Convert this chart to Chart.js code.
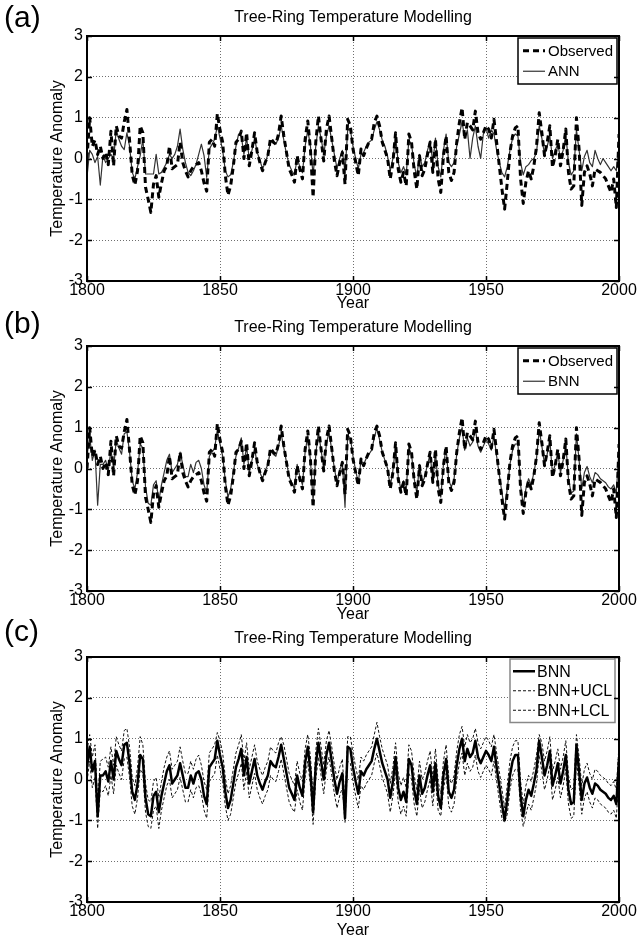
<!DOCTYPE html>
<html>
<head>
<meta charset="utf-8">
<script src="https://cdn.jsdelivr.net/npm/chart.js@4.4.1/dist/chart.umd.min.js"></script>
<style>
  html, body { margin: 0; padding: 0; background: #fff; }
  body { width: 638px; height: 937px; position: relative; overflow: hidden; font-family: "Liberation Sans", Arial, sans-serif; }
  .panel { position: absolute; left: 0; width: 638px; }
  .plabel { position: absolute; left: 4px; font-size: 30px; line-height: 1; color: #000; }
  canvas { display: block; }
</style>
</head>
<body>
<div class="panel" style="top:0px"><canvas id="ca" width="638" height="310"></canvas></div>
<div class="panel" style="top:310px"><canvas id="cb" width="638" height="311"></canvas></div>
<div class="panel" style="top:621px"><canvas id="cc" width="638" height="316"></canvas></div>
<div class="plabel" style="top:2px">(a)</div>
<div class="plabel" style="top:308px">(b)</div>
<div class="plabel" style="top:616px">(c)</div>
<script>
// ---------- DATA ----------
const firstYear = 1800, lastYear = 2000;
const years = [];
for (let y = firstYear; y <= lastYear; y++) years.push(y);
const xTicks = [1800, 1850, 1900, 1950, 2000];
const yTicks = [-3, -2, -1, 0, 1, 2, 3];
const chartTitle = 'Tree-Ring Temperature Modelling';

const observed = [
  0.0, 1.0, 0.3, 0.45, 0.1, 0.3, 0.0, 0.15, -0.15, 0.67,
  -0.18, 0.8, 0.55, 0.5, 0.9, 1.2, 0.45, -0.4, -0.65, -0.3,
  0.8, 0.63, -0.7, -1.0, -1.32, -0.63, -0.42, -0.95, -0.6, -0.3,
  -0.18, 0.3, -0.25, -0.2, -0.15, 0.4, -0.1, -0.3, -0.45, -0.3,
  -0.2, -0.15, -0.1, -0.3, -0.6, -0.8, 0.4, 0.47, 0.3, 1.1,
  0.7, 0.4, -0.42, -0.9, -0.67, -0.2, 0.4, 0.47, 0.67, 0.0,
  0.63, -0.18, 0.2, 0.63, 0.15, -0.1, -0.3, -0.1, 0.07, 0.5,
  0.4, 0.35, 0.6, 1.04, 0.55, 0.15, -0.26, -0.4, -0.58, 0.07,
  -0.26, -0.5, 0.47, 0.92, 0.23, -0.95, 0.4, 1.04, 0.47, -0.06,
  0.72, 1.04, 0.5, -0.06, -0.42, -0.1, 0.15, -0.63, 0.96, 0.8,
  0.23, -0.1, -0.42, 0.23, 0.07, 0.25, 0.4, 0.47, 0.88, 1.04,
  0.8, 0.4, 0.2, 0.0, -0.5, -0.1, 0.63, -0.26, -0.58, -0.34,
  -0.67, 0.6, 0.4, -0.3, -0.75, 0.07, -0.42, -0.26, 0.1, 0.4,
  -0.34, 0.47, -0.5, -0.83, 0.07, 0.55, -0.34, -0.54, -0.34, 0.4,
  0.88, 1.24, 0.47, 0.88, 0.8, 0.7, 1.16, 0.63, 0.47, 0.63,
  0.8, 0.72, 0.5, 0.96, 0.4, -0.18, -0.75, -1.24, -0.58, 0.15,
  0.55, 0.75, 0.8, -0.5, -1.1, -0.58, -0.3, -0.5, -0.18, 0.3,
  1.12, 0.63, 0.07, 0.4, 0.8, -0.22, 0.07, 0.47, -0.18, 0.2,
  0.72, -0.34, -0.75, -0.67, 1.0, 0.23, -1.15, -0.34, -0.18, -0.38,
  -0.67, -0.26, -0.3, -0.34, -0.42, -0.5, -0.67, -0.83, -0.5, -1.2,
  0.6
];

const ann = [
  -0.45, 0.2, 0.1, -0.1, 0.05, -0.65, 0.07, -0.1, 0.0, 0.1,
  0.0, 0.7, 0.47, 0.3, 0.22, 0.63, 0.3, -0.34, -0.5, -0.2,
  0.07, 0.47, -0.38, -0.38, -0.38, -0.38, 0.1, -0.38, -0.34, -0.22,
  -0.1, 0.1, 0.0, 0.1, 0.3, 0.72, 0.23, -0.1, -0.34, -0.42,
  -0.3, -0.14, 0.1, 0.35, 0.07, -0.46, 0.23, 0.35, 0.47, 0.8,
  0.5, 0.2, -0.3, -0.45, -0.4, -0.1, 0.3, 0.6, 0.55, 0.1,
  0.5, 0.0, 0.2, 0.5, 0.15, -0.05, -0.25, -0.1, 0.1, 0.4,
  0.45, 0.35, 0.5, 0.8, 0.45, 0.1, -0.15, -0.3, -0.4, 0.0,
  -0.2, -0.35, 0.3, 0.7, 0.3, -0.4, 0.3, 0.8, 0.5, 0.1,
  0.55, 0.8, 0.45, 0.1, -0.25, 0.0, 0.2, -0.35, 0.7, 0.7,
  0.3, 0.0, -0.25, 0.1, 0.15, 0.3, 0.4, 0.45, 0.7, 0.9,
  0.7, 0.45, 0.3, 0.05, -0.3, 0.0, 0.55, -0.1, -0.35, -0.2,
  -0.4, 0.45, 0.35, -0.15, -0.45, 0.1, -0.2, -0.1, 0.2, 0.43,
  -0.1, 0.5, -0.2, -0.45, 0.2, 0.6, -0.1, -0.2, -0.1, 0.3,
  0.6, 0.9, 0.5, 0.7, 0.0, 0.5, 0.8, 0.3, 0.0, 0.6,
  0.75, 0.5, 0.7, 0.6, 0.2, -0.1, -0.35, -0.45, -0.2, 0.2,
  0.5, 0.6, 0.55, -0.1, -0.4, -0.2, -0.15, -0.05, 0.0, 0.15,
  0.8, 0.5, 0.1, 0.3, 0.55, 0.0, 0.2, 0.35, 0.0, 0.2,
  0.6, -0.1, -0.4, -0.3, 0.7, 0.2, -0.3, 0.05, 0.2, -0.1,
  -0.2, 0.2, 0.0, -0.15, 0.0, -0.1, -0.2, -0.3, -0.2, -0.3,
  0.3
];

const bnn = [
  0.3, 0.8, 0.2, 0.45, -0.9, 0.1, 0.1, 0.2, -0.05, 0.45,
  0.0, 0.7, 0.5, 0.35, 0.85, 0.9, 0.4, -0.3, -0.5, -0.1,
  0.6, 0.5, -0.45, -0.85, -0.9, -0.4, -0.3, -0.8, -0.4, -0.1,
  0.2, 0.35, -0.1, 0.0, 0.1, 0.4, 0.1, -0.2, -0.2, 0.1,
  -0.1, 0.15, 0.2, 0.0, -0.4, -0.6, 0.3, 0.4, 0.5, 0.95,
  0.6, 0.3, -0.3, -0.7, -0.5, -0.1, 0.3, 0.5, 0.75, 0.1,
  0.55, -0.1, 0.2, 0.5, 0.1, -0.1, -0.25, -0.05, 0.1, 0.45,
  0.35, 0.3, 0.55, 0.85, 0.5, 0.15, -0.2, -0.35, -0.5, 0.1,
  -0.2, -0.4, 0.4, 0.8, 0.2, -0.8, 0.35, 0.9, 0.45, 0.0,
  0.6, 0.9, 0.45, 0.0, -0.35, -0.05, 0.15, -0.95, 0.8, 0.75,
  0.3, -0.05, -0.35, 0.2, 0.1, 0.25, 0.35, 0.45, 0.75, 1.0,
  0.7, 0.4, 0.2, 0.0, -0.45, -0.05, 0.55, -0.2, -0.5, -0.3,
  -0.55, 0.5, 0.35, -0.25, -0.6, 0.1, -0.35, -0.2, 0.1, 0.35,
  -0.3, 0.4, -0.4, -0.7, 0.1, 0.5, -0.3, -0.45, -0.25, 0.35,
  0.75, 1.0, 0.45, 0.75, 0.55, 0.65, 0.95, 0.55, 0.4, 0.55,
  0.7, 0.6, 0.45, 0.8, 0.3, -0.15, -0.6, -1.0, -0.5, 0.1,
  0.45, 0.6, 0.6, -0.4, -0.9, -0.5, -0.25, -0.4, -0.1, 0.25,
  0.95, 0.55, 0.1, 0.35, 0.7, -0.15, 0.1, 0.4, -0.1, 0.2,
  0.6, -0.25, -0.6, -0.55, 0.85, 0.2, -0.5, -0.1, 0.05, -0.2,
  -0.35, -0.1, -0.15, -0.25, -0.3, -0.35, -0.45, -0.5, -0.4, -0.6,
  0.5
];

const bnnUCL = [
  0.7, 1.1, 0.55, 0.85, -0.55, 0.45, 0.5, 0.55, 0.3, 0.8,
  0.35, 1.05, 0.85, 0.7, 1.2, 1.25, 0.8, 0.05, -0.15, 0.3,
  1.05, 0.85, -0.1, -0.5, -0.55, -0.05, 0.05, -0.45, -0.05, 0.3,
  0.55, 0.7, 0.25, 0.35, 0.45, 0.8, 0.45, 0.15, 0.15, 0.45,
  0.25, 0.5, 0.6, 0.35, -0.05, -0.25, 0.65, 0.75, 0.85, 1.15,
  0.95, 0.65, 0.05, -0.35, -0.15, 0.25, 0.65, 0.85, 1.1, 0.45,
  0.9, 0.25, 0.55, 0.85, 0.45, 0.25, 0.1, 0.3, 0.45, 0.8,
  0.7, 0.65, 0.9, 1.05, 0.85, 0.5, 0.15, 0.0, -0.15, 0.45,
  0.15, -0.05, 0.75, 1.1, 0.55, -0.45, 0.7, 1.25, 0.8, 0.35,
  0.95, 1.2, 0.8, 0.35, 0.0, 0.3, 0.5, -0.6, 1.05, 1.05,
  0.65, 0.3, 0.0, 0.55, 0.45, 0.6, 0.7, 0.8, 1.1, 1.4,
  1.05, 0.75, 0.55, 0.35, -0.1, 0.3, 0.9, 0.15, -0.15, 0.05,
  -0.2, 0.85, 0.7, 0.1, -0.25, 0.45, 0.0, 0.15, 0.45, 0.7,
  0.05, 0.75, -0.05, -0.35, 0.45, 0.85, 0.05, -0.1, 0.1, 0.7,
  1.1, 1.3, 0.8, 1.1, 0.9, 1.0, 1.25, 0.9, 0.75, 0.9,
  1.05, 0.95, 0.8, 1.1, 0.65, 0.2, -0.25, -0.7, -0.15, 0.45,
  0.8, 0.95, 0.95, -0.05, -0.6, -0.15, 0.1, -0.05, 0.25, 0.6,
  1.1, 0.9, 0.45, 0.7, 1.05, 0.2, 0.45, 0.75, 0.25, 0.55,
  0.95, 0.1, -0.25, -0.2, 1.1, 0.55, -0.15, 0.25, 0.4, 0.15,
  0.0, 0.25, 0.2, 0.1, 0.05, 0.0, -0.1, -0.15, -0.05, -0.25,
  0.85
];

const bnnLCL = [
  -0.05, 0.45, -0.2, 0.05, -1.2, -0.25, -0.3, -0.15, -0.4, 0.1,
  -0.35, 0.35, 0.15, 0.0, 0.5, 0.55, 0.05, -0.65, -0.85, -0.45,
  0.25, 0.15, -0.8, -1.15, -1.2, -0.75, -0.65, -1.2, -0.75, -0.45,
  -0.15, 0.0, -0.45, -0.35, -0.25, 0.05, -0.25, -0.55, -0.55, -0.25,
  -0.45, -0.2, -0.15, -0.35, -0.75, -0.95, -0.05, 0.05, 0.15, 0.6,
  0.25, -0.05, -0.65, -1.0, -0.85, -0.45, -0.05, 0.15, 0.4, -0.25,
  0.2, -0.45, -0.15, 0.15, -0.25, -0.45, -0.6, -0.4, -0.25, 0.1,
  0.0, -0.05, 0.2, 0.5, 0.15, -0.2, -0.55, -0.7, -0.8, -0.25,
  -0.55, -0.75, 0.05, 0.45, -0.15, -1.1, 0.0, 0.55, 0.1, -0.35,
  0.25, 0.55, 0.1, -0.35, -0.7, -0.4, -0.2, -1.05, 0.45, 0.4,
  -0.05, -0.4, -0.7, -0.15, -0.25, -0.1, 0.0, 0.1, 0.4, 0.65,
  0.35, 0.05, -0.15, -0.35, -0.8, -0.4, 0.2, -0.55, -0.85, -0.65,
  -0.9, 0.15, 0.0, -0.6, -0.9, -0.25, -0.7, -0.55, -0.25, 0.0,
  -0.65, 0.05, -0.75, -0.9, -0.25, 0.15, -0.65, -0.8, -0.6, 0.0,
  0.4, 0.65, 0.1, 0.4, 0.2, 0.3, 0.6, 0.2, 0.05, 0.2,
  0.35, 0.25, 0.1, 0.45, -0.05, -0.5, -0.95, -1.05, -0.85, -0.25,
  0.1, 0.25, 0.25, -0.75, -1.15, -0.85, -0.6, -0.75, -0.45, -0.1,
  0.6, 0.2, -0.25, 0.0, 0.35, -0.5, -0.25, 0.05, -0.45, -0.15,
  0.25, -0.6, -0.95, -0.9, 0.5, -0.15, -0.85, -0.45, -0.3, -0.55,
  -0.7, -0.45, -0.5, -0.6, -0.65, -0.7, -0.8, -0.85, -0.75, -0.95,
  0.15
];

// ---------- HELPERS ----------
const FONT = '"Liberation Sans", Arial, Helvetica, sans-serif';
const toXY = arr => years.map((y, i) => ({ x: y, y: arr[i] }));

const frameAndLegend = {
  id: 'frameAndLegend',
  afterDatasetsDraw(chart, args, opts) {
    const ctx = chart.ctx, ca = chart.chartArea;
    const ds = chart.data.datasets;
    ctx.save();
    const L = opts.legend;
    const h = L.padY * 2 + L.rowH * ds.length;
    const x0 = ca.right - L.marginRight - L.width;
    const y0 = ca.top + L.marginTop;
    ctx.fillStyle = '#fff';
    ctx.fillRect(x0, y0, L.width, h);
    ctx.lineWidth = L.borderWidth;
    ctx.strokeStyle = L.borderColor;
    ctx.strokeRect(x0, y0, L.width, h);
    ctx.font = L.fontSize + 'px ' + FONT;
    ds.forEach((d, i) => {
      const cy = y0 + L.padY + L.rowH * (i + 0.5);
      ctx.beginPath();
      ctx.setLineDash(d.borderDash || []);
      ctx.lineWidth = d.borderWidth;
      ctx.strokeStyle = d.borderColor;
      ctx.moveTo(x0 + L.lineX0, cy);
      ctx.lineTo(x0 + L.lineX1, cy);
      ctx.stroke();
      ctx.setLineDash([]);
      ctx.fillStyle = '#000';
      ctx.textBaseline = 'middle';
      ctx.textAlign = 'left';
      ctx.fillText(d.label, x0 + L.textX, cy + 1);
    });
    ctx.restore();
  },
  afterDraw(chart) {
    const ctx = chart.ctx, ca = chart.chartArea;
    const xs = chart.scales.x, ys = chart.scales.y;
    ctx.save();
    ctx.strokeStyle = '#000';
    ctx.lineWidth = 1.5;
    ctx.beginPath();
    xs.ticks.forEach(t => {
      const px = Math.round(xs.getPixelForValue(t.value)) + 0.5;
      ctx.moveTo(px, ca.bottom); ctx.lineTo(px, ca.bottom - 5);
      ctx.moveTo(px, ca.top); ctx.lineTo(px, ca.top + 5);
    });
    ys.ticks.forEach(t => {
      const py = Math.round(ys.getPixelForValue(t.value)) + 0.5;
      ctx.moveTo(ca.left, py); ctx.lineTo(ca.left + 5, py);
      ctx.moveTo(ca.right, py); ctx.lineTo(ca.right - 5, py);
    });
    ctx.stroke();
    ctx.lineWidth = 2;
    ctx.strokeRect(ca.left, ca.top, ca.right - ca.left, ca.bottom - ca.top);
    ctx.restore();
  }
};

function makeChart(id, datasets, xAxisHeight, legendOpts) {
  const el = document.getElementById(id);
  return new Chart(el, {
    type: 'line',
    data: { datasets },
    plugins: [frameAndLegend],
    options: {
      responsive: false,
      animation: false,
      devicePixelRatio: 1,
      layout: { padding: { left: 0, right: 19, top: 0, bottom: 0 } },
      elements: { point: { radius: 0 }, line: { tension: 0, borderJoinStyle: 'round' } },
      plugins: {
        legend: { display: false },
        tooltip: { enabled: false },
        title: {
          display: true,
          text: chartTitle,
          fullSize: false,
          color: '#000',
          font: { family: FONT, size: 16, weight: 'normal', lineHeight: 1.2 },
          padding: { top: 7.5, bottom: 9.3 }
        },
        frameAndLegend: { legend: legendOpts }
      },
      scales: {
        x: {
          type: 'linear',
          min: firstYear, max: lastYear,
          afterBuildTicks: s => { s.ticks = xTicks.map(v => ({ value: v })); },
          afterFit: s => { s.height = xAxisHeight; },
          ticks: { color: '#000', padding: 0, maxRotation: 0, autoSkip: false,
                   font: { family: FONT, size: 16 }, callback: v => String(v) },
          grid: { color: '#6f6f6f', lineWidth: 1, drawTicks: false },
          border: { display: false, dash: [1, 2] },
          title: { display: true, text: 'Year', color: '#000',
                   font: { family: FONT, size: 16, lineHeight: 0.75 }, padding: { top: 0, bottom: 0 } }
        },
        y: {
          min: -3, max: 3,
          afterBuildTicks: s => { s.ticks = yTicks.map(v => ({ value: v })); },
          afterFit: s => { s.width = 87; },
          ticks: { color: '#000', padding: 4, font: { family: FONT, size: 16 } },
          grid: { color: '#6f6f6f', lineWidth: 1, drawTicks: false },
          border: { display: false, dash: [1, 2] },
          title: { display: true, text: 'Temperature Anomaly', color: '#000',
                   font: { family: FONT, size: 16, lineHeight: 1.2 }, padding: { top: 48, bottom: 0 } }
        }
      }
    }
  });
}

const legendAB = { width: 99, marginRight: 2, marginTop: 2, padY: 2.5, rowH: 20.5, fontSize: 15,
                   lineX0: 5, lineX1: 27, textX: 30, borderColor: '#000', borderWidth: 1.5 };
const legendC = { width: 105, marginRight: 4, marginTop: 2, padY: 2.5, rowH: 19.5, fontSize: 16,
                  lineX0: 3, lineX1: 25, textX: 27, borderColor: '#888', borderWidth: 1.5 };

makeChart('ca', [
  { label: 'Observed', data: toXY(observed), borderColor: '#000', borderWidth: 3, borderDash: [6, 4] },
  { label: 'ANN', data: toXY(ann), borderColor: '#333', borderWidth: 1.2 }
], 29, legendAB);

makeChart('cb', [
  { label: 'Observed', data: toXY(observed), borderColor: '#000', borderWidth: 3, borderDash: [6, 4] },
  { label: 'BNN', data: toXY(bnn), borderColor: '#333', borderWidth: 1.2 }
], 30, legendAB);

makeChart('cc', [
  { label: 'BNN', data: toXY(bnn), borderColor: '#000', borderWidth: 2.5 },
  { label: 'BNN+UCL', data: toXY(bnnUCL), borderColor: '#111', borderWidth: 1, borderDash: [3, 2] },
  { label: 'BNN+LCL', data: toXY(bnnLCL), borderColor: '#111', borderWidth: 1, borderDash: [3, 2] }
], 35, legendC);
</script>
</body>
</html>
